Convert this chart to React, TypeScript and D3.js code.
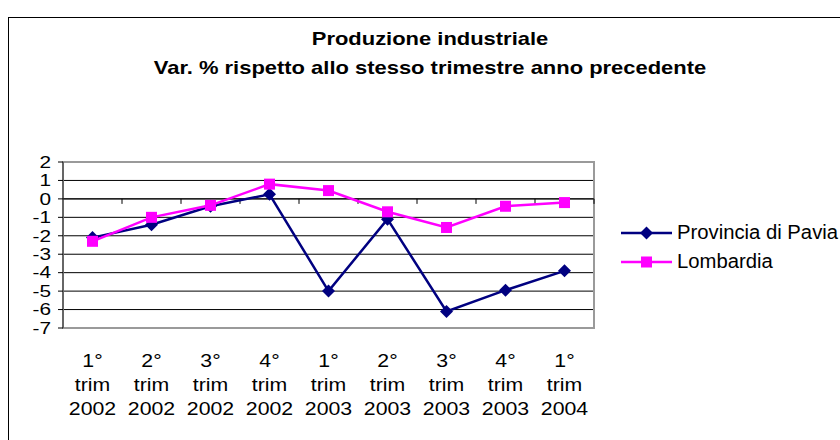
import React from "react";
import * as d3 from "d3";

const categories: string[][] = [
  ["1°", "trim", "2002"],
  ["2°", "trim", "2002"],
  ["3°", "trim", "2002"],
  ["4°", "trim", "2002"],
  ["1°", "trim", "2003"],
  ["2°", "trim", "2003"],
  ["3°", "trim", "2003"],
  ["4°", "trim", "2003"],
  ["1°", "trim", "2004"],
];
const pavia: number[] = [-2.1, -1.4, -0.4, 0.25, -5.0, -1.1, -6.1, -4.95, -3.9];
const lombardia: number[] = [-2.3, -1.0, -0.35, 0.8, 0.45, -0.7, -1.55, -0.4, -0.2];
const yTicks: number[] = [2, 1, 0, -1, -2, -3, -4, -5, -6, -7];
const seriesNames: string[] = ["Provincia di Pavia", "Lombardia"];
const titleLines: string[] = [
  "Produzione industriale",
  "Var. % rispetto allo stesso trimestre anno precedente",
];

const NAVY = "#000080";
const MAGENTA = "#FF00FF";
const FONT = "'Liberation Sans', Arial, sans-serif";

function SText(props: {
  x: number;
  y: number;
  sx: number;
  size: number;
  anchor?: string;
  bold?: boolean;
  children: React.ReactNode;
}) {
  const { x, y, sx, size, anchor, bold, children } = props;
  return (
    <text
      transform={`translate(${x},${y}) scale(${sx},1)`}
      textAnchor={anchor || "start"}
      fontSize={size}
      fontWeight={bold ? "bold" : "normal"}
      fill="#000"
    >
      {children}
    </text>
  );
}

export default function App() {
  const W = 840;
  const H = 440;
  const plot = { left: 63, right: 594, top: 162, bottom: 328 };
  const x = d3
    .scaleBand<number>()
    .domain(categories.map((_, i) => i))
    .range([plot.left, plot.right])
    .paddingInner(0)
    .paddingOuter(0);
  const y = d3.scaleLinear().domain([-7, 2]).range([plot.bottom, plot.top]);
  const cx = (i: number) => (x(i) as number) + x.bandwidth() / 2;

  const line = d3
    .line<number>()
    .x((_, i) => cx(i))
    .y((d) => y(d));

  const diamond = (px: number, py: number, r: number) =>
    `M${px},${py - r}L${px + r},${py}L${px},${py + r}L${px - r},${py}Z`;

  const legendY = [233, 262];

  return (
    <svg
      width={W}
      height={H}
      style={{ position: "absolute", left: 0, top: 0, display: "block", background: "#fff" }}
      fontFamily={FONT}
    >
      <rect x={0} y={0} width={W} height={H} fill="#fff" />
      {/* outer chart frame */}
      <rect x={8.5} y={17.5} width={W} height={H} fill="none" stroke="#000" strokeWidth={1} />

      {/* titles */}
      {titleLines.map((t, i) => (
        <SText key={i} x={430} y={44.5 + i * 29} sx={1.22} size={18} anchor="middle" bold>
          {t}
        </SText>
      ))}

      {/* gridlines */}
      {yTicks.map((t) => (
        <line
          key={"g" + t}
          x1={plot.left}
          x2={plot.right}
          y1={y(t)}
          y2={y(t)}
          stroke="#000"
          strokeWidth={1}
        />
      ))}
      {/* plot border */}
      <rect
        x={plot.left}
        y={plot.top}
        width={plot.right - plot.left}
        height={plot.bottom - plot.top}
        fill="none"
        stroke="#9a9a9a"
        strokeWidth={2}
      />
      {/* y axis */}
      <line x1={plot.left} x2={plot.left} y1={plot.top} y2={plot.bottom} stroke="#555" strokeWidth={1.5} />
      {yTicks.map((t) => (
        <g key={"yt" + t}>
          <line x1={plot.left - 5} x2={plot.left} y1={y(t)} y2={y(t)} stroke="#000" />
          <SText x={51} y={y(t) + 5.8} sx={1.3} size={16} anchor="end">
            {String(t)}
          </SText>
        </g>
      ))}
      {/* x axis at 0 */}
      <line x1={plot.left} x2={plot.right} y1={y(0)} y2={y(0)} stroke="#000" strokeWidth={1} />
      {categories.map((_, i) => (
        <line
          key={"xt" + i}
          x1={(x(i) as number) + x.bandwidth()}
          x2={(x(i) as number) + x.bandwidth()}
          y1={y(0)}
          y2={y(0) + 5}
          stroke="#000"
        />
      ))}
      {categories.map((lines, i) =>
        lines.map((l, j) => (
          <SText key={"xl" + i + "-" + j} x={cx(i)} y={367 + j * 24} sx={1.15} size={18.5} anchor="middle">
            {l}
          </SText>
        ))
      )}

      {/* series */}
      <path d={line(pavia) || ""} fill="none" stroke={NAVY} strokeWidth={2.5} />
      {pavia.map((v, i) => (
        <path key={"pd" + i} d={diamond(cx(i), y(v), 6.5)} fill={NAVY} />
      ))}
      <path d={line(lombardia) || ""} fill="none" stroke={MAGENTA} strokeWidth={2.5} />
      {lombardia.map((v, i) => (
        <rect key={"ls" + i} x={cx(i) - 5.5} y={y(v) - 5.5} width={11} height={11} fill={MAGENTA} />
      ))}

      {/* legend */}
      <line x1={621} x2={672} y1={legendY[0]} y2={legendY[0]} stroke={NAVY} strokeWidth={2.5} />
      <path d={diamond(646.5, legendY[0], 6.5)} fill={NAVY} />
      <SText x={677} y={legendY[0] + 6} sx={1.04} size={19.5}>
        {seriesNames[0]}
      </SText>
      <line x1={621} x2={672} y1={legendY[1]} y2={legendY[1]} stroke={MAGENTA} strokeWidth={2.5} />
      <rect x={641} y={legendY[1] - 5.5} width={11} height={11} fill={MAGENTA} />
      <SText x={677} y={legendY[1] + 6} sx={1.04} size={19.5}>
        {seriesNames[1]}
      </SText>
    </svg>
  );
}
